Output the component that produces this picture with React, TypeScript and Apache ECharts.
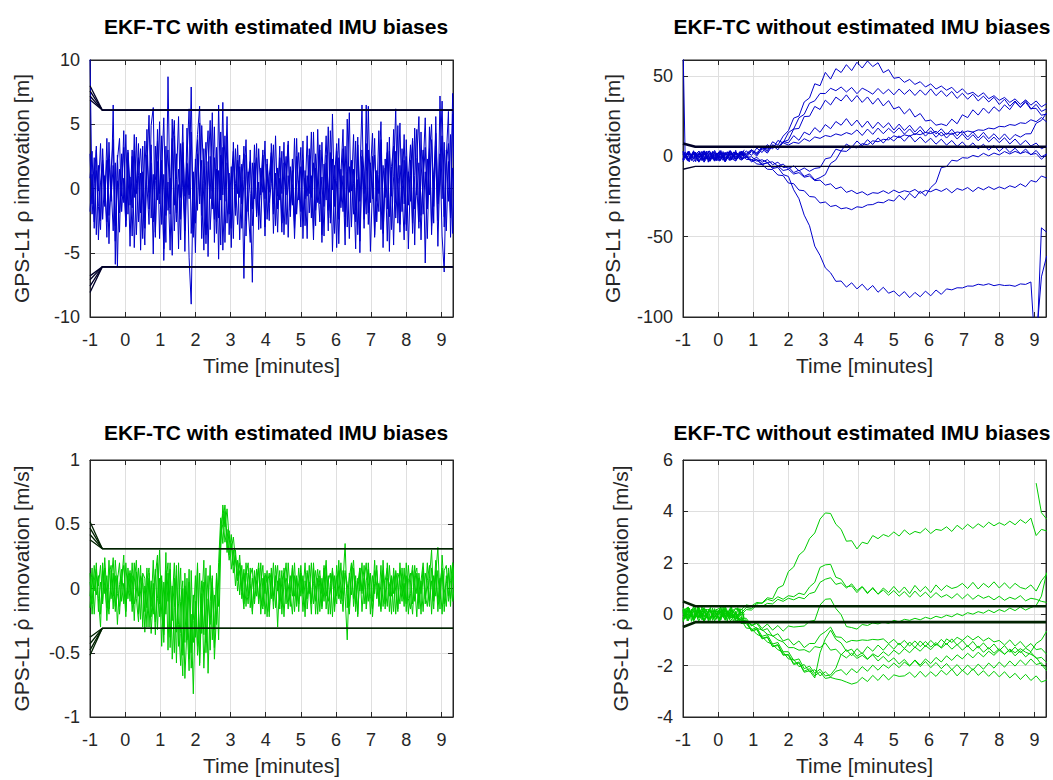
import React, { useEffect, useRef } from "react";
import * as echarts from "echarts";

// ---------- axes / sampling ----------
const X_MIN = -1;
const X_MAX = 9.33;
const SETTLE = -0.65; // time where the 3-sigma bounds settle
const STEP_FAST = 0.06; // sample spacing of the noisy traces
const STEP_SLOW = 0.15; // sample spacing of the drifting traces

// ---------- top-left: rho innovation, with bias estimation [m] ----------
const tlTrace1 = [
  10.5, -1.2, 2.4, -3.6, 1.8, -2.5, 3.1, -0.8, 2.2, -4.3,
  1.5, 3.8, -2.9, 0.6, -3.4, 2.7, -1.1, 4.2, -2.0, 0.9,
  -3.7, 2.9, -0.4, 3.5, -4.8, 1.3, -2.2, 4.6, -1.6, 2.0,
  -5.1, 3.3, -0.9, 5.2, -2.8, 1.1, -4.2, 8.7, -1.5, 3.9,
  -3.3, 0.7, 5.6, -2.4, 2.8, -4.9, 1.9, -0.5, 4.4, -3.1,
  2.3, -1.7, 5.1, -3.9, 0.4, 3.6, -5.3, 2.5, -0.2, 4.8,
  -2.6, 1.4, -4.4, 3.2, -1.0, 4.0, -3.6, 0.8, 2.9, -2.1,
  3.4, -0.7, 1.9, -7.0, 2.6, -1.8, 3.0, -2.9, 0.5, 2.4,
  -3.2, 1.6, -0.3, 3.7, -2.4, 0.9, 2.8, -3.5, 1.2, -0.6,
  3.3, -2.7, 0.2, 2.5, -3.8, 1.7, -1.3, 3.9, -2.0, 0.6,
  -3.0, 2.2, -0.8, 4.1, -1.9, 1.0, -4.0, 2.7, 0.3, -2.6,
  3.6, -1.4, 2.0, -3.3, 4.5, -0.1, 1.8, -4.6, 2.4, -1.0,
  3.1, -2.2, 0.7, 5.9, -3.0, 1.5, -1.7, 4.0, -5.0, 2.1,
  -0.4, 3.5, -2.8, 1.2, 4.3, -3.6, 0.9, -1.8, 3.8, -2.5,
  1.6, -4.1, 2.9, -0.6, 4.6, -2.3, 0.8, -3.4, 3.1, -1.2,
  2.5, -4.7, 1.0, 3.9, -1.6, 0.2, -3.1, 4.4, -2.0, 1.3,
  -3.9, 2.8, 5.0, -1.4, 3.3, -4.5, 1.7, 6.8, -2.2, 3.0,
  -1.0, 4.2, -3.5, 2.0,
];
const tlTrace2 = [
  0.8, 2.9, -3.1, 1.4, -0.2, 3.5, -2.4, 1.0, -3.8, 2.3,
  -1.0, 6.5, -5.9, 2.6, -1.9, 0.5, 3.2, -3.0, 1.8, -4.5,
  2.5, -0.7, 4.0, -2.6, 1.2, -3.9, 3.7, 0.3, -2.8, 4.9,
  6.3, -3.4, 2.1, -1.2, 4.1, -5.6, 0.9, 3.0, -2.0, 5.4,
  -1.3, 2.7, -4.7, 3.5, 0.1, -2.9, 4.7, -0.8, 7.9, -3.8,
  1.6, 4.2, 6.4, -2.1, 3.1, -4.3, 1.0, 5.3, -1.6, 2.4,
  -3.5, 6.5, -0.9, 6.7, -4.2, 2.0, 0.6, -3.1, 3.6, -1.5,
  2.2, -4.0, 0.9, 2.7, -2.5, 1.3, -0.4, -7.3, 2.0, -1.9,
  3.1, -0.5, 1.8, -3.0, 2.3, -1.1, 0.4, 3.4, -2.9, 1.6,
  -0.9, 2.9, -3.6, 1.1, 3.7, -1.4, 0.3, -2.6, 2.5, -0.2,
  3.2, -3.9, 1.4, -0.6, 2.6, -2.3, 4.4, -1.7, 0.5, 3.4,
  -4.2, 1.9, -0.9, 4.8, -2.7, 2.3, -3.5, 0.6, 3.9, -1.5,
  1.0, -4.4, 5.4, -0.3, 2.2, -2.0, 3.7, -3.6, 0.9, 6.5,
  -2.4, 1.3, 3.0, -4.9, 0.2, 2.6, -1.0, 4.5, -3.2, 1.8,
  -0.7, 3.6, -2.2, 1.4, -4.4, 2.9, 0.4, 5.1, -1.8, 2.2,
  -3.3, 0.8, 3.4, -2.7, 4.7, -0.5, 2.0, -4.0, 1.5, 5.5,
  -1.6, 3.1, -2.9, 0.6, 4.3, -0.9, 2.7, -3.7, -6.5, 1.9,
  3.5, -2.3, 5.8, -0.8,
];
const tlTrace3 = [
  -1.8, 1.1, -2.6, 3.0, -4.0, 0.5, 2.2, -1.4, 3.9, -2.1,
  0.3, -3.3, 2.0, -6.1, 1.5, -0.6, 4.5, -2.5, 2.8, -1.3,
  3.0, -4.6, 0.4, 2.4, -1.9, 3.3, -3.1, 1.6, 5.7, -2.3,
  1.1, -3.8, 4.6, -0.4, 2.2, -4.7, 3.3, -1.7, 0.8, -5.2,
  4.1, -2.6, 1.5, -0.7, 5.0, -3.3, 2.0, -5.4, -9.0, 1.3,
  -2.7, 3.8, -0.6, 2.2, -4.8, 1.8, 4.5, -3.2, 0.2, -2.4,
  3.2, -5.5, 2.6, -0.5, 4.1, -2.7, 1.2, -4.6, 2.3, 0.4,
  -2.8, 1.7, -1.2, 3.3, -3.7, 0.8, 2.1, -1.6, 3.4, -2.2,
  0.5, -3.1, 2.6, -0.8, 1.4, -2.5, 3.5, -1.2, 0.9, -3.4,
  2.4, -0.4, 3.6, -2.8, 1.0, -1.7, 2.3, -3.1, 3.9, -0.9,
  1.7, -2.4, 0.8, -3.9, 3.1, -0.7, 2.0, -2.9, 4.6, -1.2,
  0.9, -3.7, 2.6, 0.1, -2.3, 5.8, -1.4, 2.9, -4.3, 1.5,
  -1.8, 3.3, -3.0, 1.7, -0.2, 4.2, -2.6, 0.7, -4.1, 3.0,
  1.2, -2.0, 6.4, -1.1, 2.5, -3.8, 1.4, -0.4, 3.6, -4.6,
  2.3, -1.6, 4.0, -3.2, 0.9, 6.2, -2.7, 1.8, -0.5, 4.2,
  -2.8, 1.3, -1.0, 3.7, -4.4, 2.4, 5.6, -2.1, 0.6, 3.2,
  -1.4, 4.8, -3.6, 1.1, 2.6, -2.5, 7.2, -0.8, 3.6, -3.3,
  2.1, -2.0, 7.4, 1.0,
];
const tlTrace4 = [
  2.7, -2.0, 0.4, 3.3, -1.4, -3.2, 1.9, 0.1, -2.6, 3.6,
  -0.7, 1.8, -4.1, 2.2, 3.9, -1.8, 0.8, -2.9, 3.0, 0.2,
  -1.5, 4.2, -3.6, 1.0, 3.1, -0.9, -4.4, 2.6, -0.3, 3.4,
  -2.6, 0.6, 3.7, -3.9, 1.4, 5.5, -2.1, 0.5, -4.8, 2.8,
  5.3, -1.9, 0.3, -4.0, 3.6, -0.6, 2.4, 6.2, -3.5, 0.9,
  -5.0, 2.7, -1.2, 4.9, 0.6, -3.6, 2.1, -0.8, 5.9, -4.2,
  1.5, -2.3, 4.4, -4.8, 0.3, 5.6, -2.0, 1.7, -3.9, 3.1,
  -0.4, 2.6, -3.1, 0.7, 3.8, -1.5, -4.2, 2.0, -0.8, 3.5,
  -2.1, 0.4, 3.0, -3.7, 1.9, -0.3, 2.5, -2.0, 4.1, -1.6,
  0.8, -3.4, 2.0, -0.5, 3.4, -2.2, 1.4, -3.9, 0.5, 2.8,
  -1.8, 3.7, -2.9, 1.0, -0.4, 4.4, -3.2, 1.6, -1.1, 3.0,
  -3.6, 0.5, 4.1, -1.7, 2.8, -4.9, 0.8, 3.5, -2.4, 1.1,
  4.6, -2.8, 1.3, -3.9, 2.1, 0.4, -4.7, 3.4, -1.0, 2.5,
  -3.1, 6.5, -1.9, 2.0, -0.8, 3.9, -2.6, 1.1, 5.2, -3.5,
  0.6, 2.8, -4.9, 1.7, 3.3, -1.1, 4.9, -2.8, 0.2, -4.0,
  3.8, -1.3, 2.2, -3.5, 1.0, 4.6, -2.6, 0.9, 3.0, -5.8,
  2.3, -0.5, 3.8, -2.7, 5.6, -1.2, 0.4, 4.1, -3.0, 2.5,
  6.0, -3.8, 1.6, -0.9,
];
const tlBoundStartUpper = [8.0, 7.6, 7.2, 6.9];
const tlBoundStartLower = [-8.1, -7.6, -7.1, -6.8];
const tlBoundLevel = 6.1;

// ---------- top-right: rho innovation, without bias estimation [m] ----------
// dense start-up noise (fast sampling, -1 .. 0.74 min)
const trEarly1 = [70, 1.2, -2.4, 3.1, -0.6, 2.2, -3.3, 0.9, 1.8, -2.7, 3.4, -1.1, 0.4, -3.0, 2.6, -0.8, 1.9, -2.2, 3.6, -1.6, 0.7, 2.9, -2.5, 1.3, -0.2, 3.8, -1.4, 2.2, 0.6, 4.1];
const trEarly2 = [-2.1, 2.8, -0.4, -3.4, 1.5, -1.8, 2.7, -2.9, 0.3, 3.2, -1.7, 2.0, -3.6, 1.1, -0.9, 2.5, -2.8, 0.8, -1.5, 3.0, -3.1, 0.2, 1.6, -2.3, 2.8, -0.7, 1.2, -1.9, 3.3, 0.5];
const trEarly3 = [1.6, -1.0, 2.3, 0.5, -2.6, 3.5, -0.3, -1.4, 2.9, -0.6, -2.2, 3.3, 0.9, -1.7, 3.1, -2.6, 0.1, 2.4, -0.9, -2.5, 1.8, -1.3, 3.5, -0.4, -1.8, 2.1, 0.3, 3.0, -2.2, 1.7];
const trA = [
  1.0, -2.6, 2.9, -0.4, 1.7, -3.1, 0.6, 2.8, -1.9, 3.2, -0.7, 2.4,
  1.8, 4.1, 0.9, 6.2, 3.5, 9.1, 7.0, 12.6,
  16.0, 23.8, 25.1, 33.9, 36.4, 45.2, 44.0, 52.3, 48.1, 54.6,
  52.2, 57.1, 53.4, 58.6, 55.0, 59.4, 55.9, 58.3, 52.1, 54.0,
  48.6, 49.2, 46.1, 47.9, 44.8, 46.5, 43.2, 45.1, 41.9, 43.8,
  41.2, 43.0, 39.5, 42.1, 38.7, 39.9, 37.2, 39.6, 35.9, 37.8,
  34.9, 36.7, 33.6, 35.8, 32.4, 35.2, 31.9, 34.5, 30.8, 32.9,
];
const trB = [
  2.2, -1.4, 0.1, 3.1, -2.2, 1.0, -3.0, 1.6, 2.1, -1.9, 2.6, -0.2,
  3.4, 0.6, 5.2, 2.4, 7.3, 4.6, 9.9, 8.4,
  14.8, 17.1, 24.0, 26.2, 33.1, 34.6, 39.2, 39.1, 42.4, 40.9,
  43.2, 40.1, 42.9, 39.0, 42.5, 40.8, 38.7, 42.3, 38.9, 41.8,
  38.3, 42.0, 38.6, 41.6, 37.9, 41.4, 38.1, 42.0, 37.8, 40.9,
  37.3, 40.4, 36.1, 39.3, 35.6, 38.7, 34.5, 37.5, 33.9, 36.8,
  32.3, 35.6, 31.2, 34.5, 30.6, 33.7, 29.3, 32.4, 28.0, 29.6,
];
const trC = [
  -1.9, 2.6, -1.4, 0.9, 3.0, -2.4, 1.8, -1.0, -0.3, -2.5, 1.5, 2.4,
  -0.6, 3.1, 0.2, 4.7, 2.0, 6.8, 4.1, 9.0,
  10.2, 17.0, 17.4, 24.8, 25.0, 31.1, 29.2, 35.0, 32.0, 36.9,
  34.5, 38.3, 34.0, 37.9, 33.6, 37.0, 32.5, 36.2, 31.4, 34.7,
  29.5, 30.9, 26.4, 29.6, 24.5, 26.7, 22.0, 22.6, 19.4, 20.2,
  19.1, 23.2, 20.3, 25.9, 24.1, 29.0, 25.7, 30.1, 26.8, 30.9,
  28.0, 32.1, 29.1, 33.8, 30.4, 34.7, 29.8, 29.9, 25.6, 26.4,
];
const trD = [
  2.9, -1.5, 2.2, -3.1, 1.8, 3.3, -2.4, 2.7, -1.2, 3.6, -1.9, 2.4,
  0.9, 4.0, 1.5, 5.6, 3.0, 7.2, 5.7, 9.3,
  8.4, 12.9, 10.0, 15.1, 13.4, 17.9, 15.0, 19.8, 17.2, 21.7,
  19.4, 23.5, 19.0, 22.6, 18.1, 22.0, 17.4, 21.3, 17.8, 20.9,
  16.4, 20.1, 16.1, 19.4, 15.2, 18.7, 14.6, 18.1, 14.0, 17.2,
  13.4, 16.9, 12.8, 16.0, 12.0, 15.3, 11.4, 15.0, 11.0, 14.1,
  10.5, 14.0, 10.3, 13.6, 12.0, 14.0, 14.1, 20.6, 22.4, 27.1,
];
const trE = [
  -2.4, 3.3, -1.2, 2.0, -3.6, 1.3, 2.9, -2.6, 2.2, -0.9, -2.9, 3.2,
  0.5, 3.8, 2.3, 5.3, 4.7, 6.3, 5.8, 8.5,
  7.0, 8.8, 8.1, 11.0, 9.4, 12.1, 11.2, 13.0, 12.3, 14.0,
  13.1, 14.8, 13.7, 16.5, 13.0, 17.0, 13.7, 17.6, 14.1, 17.5,
  14.5, 17.8, 13.8, 17.1, 13.4, 16.4, 12.6, 15.9, 11.9, 15.2,
  11.4, 14.7, 10.8, 14.0, 10.2, 13.5, 9.7, 12.8, 9.0, 12.0,
  8.5, 11.6, 7.7, 10.8, 7.1, 10.0, 6.4, 8.3, 4.7, 6.4,
];
const trF = [
  1.6, -3.0, 2.8, -1.3, 3.5, -2.7, 1.1, 2.5, -3.4, 1.8, -1.5, 2.2,
  -0.7, -0.2, -3.0, -2.1, -3.8, -3.4, -6.1, -4.8,
  -7.8, -5.9, -9.0, -7.2, -9.3, -7.5, -7.0, -1.5, -0.8, 4.5,
  3.4, 7.7, 5.6, 9.6, 6.5, 10.4, 7.4, 11.5, 8.3, 11.9,
  9.6, 12.8, 9.4, 13.1, 9.0, 12.1, 8.5, 11.3, 7.6, 10.7,
  7.0, 9.9, 6.1, 9.0, 5.4, 8.4, 4.7, 7.6, 3.9, 6.8,
  3.1, 6.0, 2.4, 5.1, 1.6, 4.6, 0.9, 3.7, -0.3, 1.5,
];
const trG = [
  -3.2, 1.9, -1.5, 3.3, -2.9, 2.1, -1.7, 3.6, -2.2, 1.4, 2.7, -1.3,
  -0.2, -2.9, -2.1, -4.8, -4.0, -6.9, -5.9, -8.8,
  -8.1, -11.0, -10.1, -13.0, -12.2, -15.1, -14.8, -17.9, -17.1, -20.2,
  -19.0, -22.4, -21.2, -23.2, -22.0, -24.1, -22.6, -23.0, -21.4, -23.1,
  -21.0, -22.6, -21.4, -22.2, -20.6, -23.0, -21.2, -22.0, -20.4, -21.8,
  -20.0, -22.7, -20.0, -21.1, -19.4, -21.9, -19.3, -20.8, -18.9, -20.6,
  -19.0, -20.2, -18.3, -19.4, -17.1, -18.9, -15.0, -16.0, -12.2, -13.5,
];
const trH = [
  2.5, -1.8, 3.2, -3.6, 1.1, 2.4, -2.6, 1.8, -3.3, 3.0, -1.5, 1.7,
  -1.9, -2.0, -4.7, -5.1, -8.0, -8.2, -11.6, -12.0,
  -16.6, -17.0, -21.0, -21.4, -25.0, -25.3, -29.0, -28.4, -31.2, -30.5,
  -32.6, -32.0, -33.2, -31.4, -31.8, -30.2, -30.0, -28.5, -28.9, -27.0,
  -27.8, -24.2, -27.1, -23.0, -25.9, -21.6, -24.6, -19.4, -16.4, -7.0,
  -6.3, -2.4, -2.9, -0.8, -1.1, 0.6, -0.3, 1.9, 0.3, 2.1,
  0.9, 3.0, 1.5, 3.1, 1.8, 2.9, 1.2, 1.8, -1.8, 1.1,
];
const trI = [
  -1.4, 2.8, -3.3, 1.6, -2.1, 3.4, -1.2, -2.9, 2.5, -1.9, 1.8, -2.4,
  -0.2, -3.4, -1.8, -5.3, -3.9, -7.6, -6.8, -11.3,
  -12.5, -20.8, -26.4, -36.6, -43.2, -55.9, -61.7, -69.4, -72.5, -77.8,
  -77.6, -81.4, -78.7, -82.5, -79.6, -83.3, -80.4, -84.6, -81.5, -85.2,
  -83.8, -87.1, -84.2, -88.0, -84.7, -87.4, -83.9, -86.8, -83.2, -85.9,
  -82.5, -83.1, -81.8, -81.9, -80.7, -80.8, -79.6, -80.2, -79.3, -80.5,
  -79.8, -80.4, -80.2, -80.9, -79.4, -79.7, -78.2, -130, -44.5, -47.2,
];
const trJ = [
  3.3, -2.0, 1.3, -3.0, 2.5, -1.5, 3.7, -2.3, 1.6, 2.9, -2.7, 1.4,
  0.7, -2.2, -0.6, -3.7, -2.0, -5.2, -3.6, -7.0,
  -6.5, -10.1, -8.6, -12.4, -10.9, -14.6, -13.2, -11.3, -4.4, -2.2,
  3.4, 3.1, 5.8, 5.3, 7.9, 7.2, 9.7, 9.1, 10.6, 10.3,
  12.8, 11.7, 13.4, 12.6, 14.1, 13.5, 14.9, 14.2, 15.6, 12.8,
  14.4, 13.7, 15.2, 14.6, 15.8, 15.1, 16.5, 16.2, 17.6, 17.1,
  18.7, 18.4, 19.8, 19.3, 20.9, 20.5, 22.8, 21.6, 24.2, 21.4,
];
const trK = [-115, -75, -62]; // satellite that appears at the very end
const trKStartIndex = 67;
const trBoundStartUpper = 8;
const trBoundStartLower = -8;
const trBoundUpper = 6;
const trBoundLower = -6.2;

// ---------- bottom-left: rho-dot innovation, with bias estimation [m/s] ----------
const blTrace1 = [
  0.05, -0.12, 0.18, -0.05, 0.1, -0.2, 0.14, 0.02, -0.15, 0.22,
  -0.08, 0.12, -0.18, 0.06, 0.2, -0.1, 0.04, -0.22, 0.16, -0.03,
  0.1, -0.25, 0.13, -0.06, 0.18, -0.3, 0.02, -0.15, 0.08, -0.35,
  -0.05, 0.15, -0.32, 0.08, -0.45, 0.05, -0.2, 0.12, -0.38, 0.02,
  -0.5, 0.1, -0.28, -0.6, 0.0, -0.42, 0.08, -0.55, -0.2, -0.82,
  -0.1, -0.45, 0.12, -0.35, 0.05, -0.5, -0.15, 0.18, -0.4, -0.05,
  -0.28, 0.2, 0.55, 0.35, 0.6, 0.28, 0.45, 0.15, 0.3, 0.02,
  0.22, -0.05, 0.18, -0.12, 0.1, 0.2, -0.15, 0.08, -0.08, 0.15,
  -0.12, 0.05, 0.18, -0.2, 0.02, 0.12, -0.08, 0.2, -0.15, 0.06,
  -0.1, 0.14, -0.22, 0.08, 0.03, -0.14, 0.18, -0.06, 0.1, -0.18,
  0.12, -0.04, 0.2, -0.16, 0.05, -0.1, 0.16, -0.2, 0.08, 0.02,
  -0.14, 0.18, -0.06, 0.1, -0.2, 0.14, 0.0, -0.12, 0.22, -0.08,
  0.05, 0.35, -0.15, 0.12, -0.05, 0.16, -0.18, 0.08, -0.02, 0.2,
  -0.12, 0.06, 0.15, -0.2, 0.1, -0.04, 0.18, -0.14, 0.04, 0.12,
  -0.16, 0.2, -0.06, 0.08, -0.18, 0.14, 0.02, -0.12, 0.16, -0.08,
  0.1, -0.2, 0.05, 0.18, -0.1, 0.12, -0.16, 0.06, 0.2, -0.05,
  -0.14, 0.08, 0.3, -0.1, 0.14, -0.18, 0.04, 0.16, -0.12, 0.1,
  -0.06, 0.18, -0.1, 0.05,
];
const blTrace2 = [
  -0.15, 0.08, -0.02, 0.2, -0.18, 0.05, -0.1, 0.16, -0.25, 0.1,
  0.18, -0.06, 0.1, -0.28, 0.03, 0.15, -0.12, 0.2, -0.08, 0.12,
  -0.18, 0.05, 0.22, -0.2, -0.02, 0.1, -0.34, 0.06, 0.16, -0.22,
  0.04, -0.36, 0.2, -0.12, 0.1, -0.3, 0.28, -0.48, 0.15, -0.25,
  0.08, -0.58, 0.2, -0.35, -0.68, 0.12, -0.4, 0.05, -0.62, -0.25,
  0.1, -0.52, -0.3, 0.06, -0.62, -0.2, 0.1, -0.48, 0.05, -0.32,
  0.08, -0.4, 0.3, 0.65, 0.48, 0.62, 0.38, 0.3, 0.4, 0.22,
  0.1, 0.26, -0.02, 0.15, -0.14, 0.12, 0.04, -0.18, 0.14, -0.06,
  0.16, -0.2, 0.08, -0.04, 0.14, -0.22, 0.1, -0.1, 0.04, 0.18,
  -0.16, 0.06, 0.12, -0.12, 0.2, -0.04, -0.2, 0.1, -0.1, 0.16,
  -0.06, 0.1, -0.22, 0.14, -0.04, 0.2, -0.12, 0.02, 0.15, -0.18,
  0.08, -0.1, 0.16, -0.2, 0.04, 0.12, -0.14, 0.18, -0.02, -0.12,
  0.14, -0.06, -0.4, 0.08, 0.2, -0.14, 0.06, -0.2, 0.12, -0.04,
  0.18, -0.16, 0.02, 0.12, -0.1, 0.22, -0.08, 0.04, -0.18, 0.14,
  0.0, -0.14, 0.18, -0.06, 0.1, -0.2, 0.12, 0.06, -0.1, 0.16,
  -0.18, 0.06, 0.12, -0.12, 0.18, -0.04, 0.08, -0.2, 0.14, -0.08,
  0.2, -0.1, 0.06, -0.16, 0.12, 0.32, -0.08, 0.14, -0.18, 0.04,
  0.12, -0.14, 0.2, -0.02,
];
const blTrace3 = [
  0.12, -0.2, 0.06, 0.15, -0.08, -0.3, 0.2, -0.04, 0.1, -0.16,
  0.04, 0.24, -0.14, 0.1, -0.2, 0.08, 0.18, -0.1, 0.02, 0.14,
  -0.12, 0.2, -0.08, -0.26, 0.1, 0.04, -0.18, 0.16, -0.3, 0.06,
  -0.2, 0.1, 0.26, -0.22, 0.06, -0.42, 0.14, -0.1, 0.2, -0.55,
  -0.15, 0.18, -0.45, -0.1, 0.06, -0.7, -0.3, 0.15, -0.5, -0.05,
  -0.38, 0.16, -0.6, -0.12, 0.22, -0.42, -0.08, -0.28, 0.1, -0.55,
  -0.2, 0.05, 0.42, 0.5, 0.65, 0.4, 0.22, 0.35, 0.12, 0.3,
  0.06, 0.2, -0.08, 0.12, 0.02, -0.12, 0.16, -0.2, 0.1, 0.04,
  0.2, -0.1, -0.16, 0.12, 0.04, -0.18, 0.16, -0.06, 0.1, -0.3,
  0.08, -0.12, 0.16, 0.02, -0.16, 0.1, -0.06, 0.2, -0.14, 0.05,
  0.12, -0.18, 0.06, -0.08, 0.18, -0.12, 0.04, 0.14, -0.2, 0.1,
  -0.04, 0.16, -0.16, 0.06, 0.12, -0.22, 0.1, -0.06, 0.14, 0.02,
  -0.18, 0.12, 0.04, -0.14, 0.18, -0.08, 0.1, -0.22, 0.16, -0.02,
  0.08, -0.12, 0.2, -0.06, -0.16, 0.14, 0.02, -0.1, 0.18, -0.14,
  0.06, 0.16, -0.18, 0.1, -0.04, 0.12, -0.16, 0.2, -0.06, 0.04,
  -0.12, 0.18, -0.04, -0.2, 0.1, 0.16, -0.1, 0.06, -0.18, 0.12,
  0.02, -0.14, 0.16, -0.06, 0.22, -0.12, 0.08, -0.2, 0.14, 0.18,
  -0.1, 0.06, 0.2, -0.16,
];
const blTrace4 = [
  -0.06, 0.16, -0.2, 0.1, 0.02, 0.18, -0.12, 0.24, -0.06, -0.2,
  0.14, -0.16, 0.22, -0.04, -0.14, 0.06, 0.26, -0.18, 0.1, -0.1,
  0.2, -0.12, -0.02, 0.16, -0.24, 0.12, 0.08, -0.3, 0.12, -0.14,
  0.22, -0.26, -0.08, 0.3, -0.2, -0.36, 0.04, 0.2, -0.46, -0.1,
  0.2, -0.34, -0.12, 0.16, -0.52, 0.02, -0.26, -0.64, 0.14, -0.42,
  -0.2, 0.2, -0.58, -0.04, -0.36, 0.16, -0.66, -0.1, 0.08, -0.46,
  0.12, -0.14, 0.48, 0.58, 0.36, 0.46, 0.26, 0.42, 0.18, 0.26,
  -0.02, 0.14, 0.02, -0.16, 0.2, -0.06, 0.1, 0.16, -0.12, 0.06,
  -0.08, 0.2, -0.14, 0.1, -0.22, 0.06, 0.12, -0.16, 0.18, -0.02,
  0.14, -0.2, 0.04, 0.2, -0.1, -0.02, 0.16, -0.18, 0.08, -0.12,
  0.18, -0.06, -0.14, 0.12, 0.04, -0.2, 0.2, -0.1, 0.06, 0.14,
  -0.16, 0.04, 0.22, -0.1, -0.02, 0.16, -0.18, 0.1, -0.08, 0.2,
  -0.1, 0.14, -0.04, -0.2, 0.1, 0.22, -0.12, 0.04, 0.16, -0.18,
  0.06, 0.2, -0.1, 0.12, -0.22, 0.04, 0.14, -0.08, -0.16, 0.22,
  -0.12, 0.08, 0.04, -0.2, 0.16, -0.02, -0.18, 0.14, 0.08, -0.14,
  0.2, -0.08, -0.16, 0.14, 0.02, -0.22, 0.12, -0.04, 0.16, -0.12,
  0.06, 0.18, -0.2, 0.1, -0.06, 0.14, -0.16, 0.26, 0.0, -0.14,
  0.16, -0.08, 0.1, 0.18,
];
const blBoundStartUpper = [0.52, 0.47, 0.42, 0.38];
const blBoundStartLower = [-0.52, -0.48, -0.43, -0.38];
const blBoundLevel = 0.31;

// ---------- bottom-right: rho-dot innovation, without bias estimation [m/s] ----------
const brEarly1 = [0.12, -0.18, 0.26, -0.08, 0.2, -0.24, 0.06, 0.18, -0.14, 0.28, -0.1, 0.04, -0.26, 0.16, -0.02, 0.22, -0.2, 0.1, 0.3, -0.12, 0.08, -0.28, 0.2, -0.06, 0.14, -0.22, 0.26, -0.04, 0.1, -0.3];
const brEarly2 = [-0.2, 0.1, -0.04, 0.24, -0.28, 0.14, -0.12, 0.3, -0.06, -0.22, 0.18, -0.16, 0.12, 0.26, -0.24, 0.04, 0.2, -0.3, 0.08, -0.1, 0.24, -0.02, -0.2, 0.16, -0.34, 0.12, -0.12, 0.22, -0.26, 0.02];
const brEarly3 = [0.04, 0.22, -0.26, 0.1, 0.0, -0.16, 0.26, -0.2, 0.14, 0.06, -0.3, 0.2, -0.08, -0.18, 0.24, -0.14, 0.06, 0.16, -0.22, 0.28, -0.18, 0.12, -0.04, 0.3, -0.14, 0.08, -0.3, 0.14, 0.2, -0.16];
const brA = [
  0.2, -0.16, 0.26, -0.1, 0.08, -0.22, 0.14, 0.24, -0.06, 0.1, 0.22, 0.04,
  0.26, 0.22, 0.42, 0.44, 0.64, 0.6, 1.02, 1.12,
  1.66, 1.84, 2.3, 2.48, 2.94, 3.16, 3.7, 3.94, 3.92, 3.5,
  3.3, 2.84, 2.86, 2.54, 2.8, 2.74, 3.06, 2.94, 3.1, 3.02,
  3.2, 3.04, 3.28, 3.1, 3.22, 3.16, 3.34, 3.14, 3.3, 3.26,
  3.4, 3.22, 3.46, 3.3, 3.5, 3.34, 3.52, 3.38, 3.58, 3.44,
  3.56, 3.46, 3.62, 3.48, 3.68, 3.54, 3.74, 3.06, 3.3, 3.24,
];
const brA2 = [5.1, 3.95, 3.7]; // satellite that appears at the very end
const brA2StartIndex = 67;
const brB = [
  -0.04, 0.26, -0.12, 0.2, -0.26, 0.12, 0.1, -0.18, 0.2, -0.1, 0.22, 0.16,
  0.36, 0.32, 0.46, 0.42, 0.58, 0.52, 0.68, 0.58,
  0.72, 0.68, 0.82, 0.76, 1.06, 1.24, 1.82, 1.92, 1.94, 1.44,
  1.36, 1.06, 1.1, 0.84, 1.06, 0.8, 1.04, 0.78, 1.02, 0.84,
  1.08, 0.84, 1.06, 0.8, 1.12, 0.88, 1.08, 0.84, 1.14, 0.92,
  1.12, 1.0, 1.06, 1.2, 1.0, 1.24, 0.98, 1.2, 1.04, 1.26,
  1.02, 1.22, 1.0, 1.2, 1.04, 0.98, 1.14, 0.9, 1.3, 1.56,
];
const brC = [
  0.16, -0.22, 0.14, 0.06, -0.28, 0.2, -0.12, 0.16, -0.24, 0.26, -0.02, -0.04,
  0.18, 0.16, 0.36, 0.3, 0.42, 0.4, 0.58, 0.5,
  0.62, 0.56, 0.66, 0.6, 0.8, 0.86, 1.24, 1.36, 1.42, 1.16,
  1.22, 1.02, 1.18, 0.92, 1.08, 0.84, 1.0, 0.78, 0.94, 0.74,
  0.92, 0.7, 0.88, 0.66, 0.9, 0.68, 0.86, 0.64, 0.84, 0.66,
  0.76, 0.62, 0.8, 0.6, 0.78, 0.58, 0.74, 0.62, 0.7, 0.56,
  0.7, 0.54, 0.66, 0.58, 0.72, 0.52, 0.62, 0.58, 0.5, 0.46,
];
const brD = [
  -0.14, 0.14, -0.2, 0.24, -0.1, 0.18, -0.26, 0.1, 0.2, -0.16, 0.02, -0.26,
  -0.22, -0.46, -0.3, -0.56, -0.38, -0.62, -0.44, -0.66,
  -0.46, -0.5, -0.48, -0.46, -0.28, -0.24, 0.36, 0.58, 0.6, 0.22,
  -0.02, -0.48, -0.52, -0.58, -0.4, -0.44, -0.34, -0.38, -0.3, -0.36,
  -0.24, -0.3, -0.2, -0.24, -0.16, -0.22, -0.12, -0.18, -0.08, -0.14,
  -0.04, -0.1, 0.02, -0.06, 0.06, 0.0, 0.1, 0.04, 0.16, 0.06,
  0.18, 0.1, 0.24, 0.14, 0.28, 0.16, 0.26, 0.34, 0.7, 1.62,
];
const brE = [
  0.16, -0.26, 0.3, -0.14, 0.22, -0.3, 0.1, 0.12, -0.2, 0.08, -0.16, -0.18,
  -0.32, -0.4, -0.56, -0.6, -0.78, -0.84, -1.0, -1.08,
  -1.3, -1.3, -1.4, -1.38, -1.48, -1.26, -1.3, -1.12, -1.4, -1.36,
  -1.58, -1.38, -1.62, -1.34, -1.54, -1.26, -1.44, -1.2, -1.4, -1.16,
  -1.36, -1.12, -1.34, -1.08, -1.3, -1.04, -1.26, -1.02, -1.22, -0.98,
  -1.18, -0.96, -1.2, -1.02, -1.26, -1.06, -1.32, -1.12, -1.36, -1.16,
  -1.42, -1.22, -1.48, -1.28, -1.5, -1.32, -1.46, -1.14, -1.0, -0.66,
];
const brF = [
  -0.24, 0.18, -0.12, 0.28, -0.22, 0.1, 0.14, -0.18, 0.14, -0.26, 0.01, -0.36,
  -0.36, -0.64, -0.6, -0.96, -0.9, -1.26, -1.22, -1.6,
  -1.56, -1.92, -1.86, -2.22, -2.12, -2.4, -2.24, -2.5, -2.46, -2.52,
  -2.56, -2.64, -2.72, -2.66, -2.46, -2.62, -2.38, -2.58, -2.34, -2.56,
  -2.36, -2.42, -2.4, -2.26, -2.46, -2.22, -2.44, -2.24, -2.42, -2.18,
  -2.36, -2.14, -2.4, -2.18, -2.36, -2.12, -2.38, -2.2, -2.42, -2.22,
  -2.44, -2.24, -2.48, -2.3, -2.54, -2.34, -2.58, -2.4, -2.64, -2.56,
];
const brG = [
  0.26, -0.12, 0.2, -0.26, 0.16, 0.18, -0.2, 0.06, 0.14, -0.14, -0.09, -0.31,
  -0.3, -0.66, -0.58, -0.94, -0.88, -1.26, -1.18, -1.56,
  -1.6, -1.96, -1.9, -2.26, -2.2, -2.48, -1.5, -0.96, -0.62, -0.98,
  -1.12, -1.44, -1.36, -1.64, -1.5, -1.74, -1.58, -1.82, -1.64, -1.86,
  -1.7, -1.94, -1.76, -2.0, -1.8, -2.04, -1.84, -2.08, -1.88, -2.12,
  -1.92, -2.16, -1.96, -2.2, -1.98, -2.18, -1.94, -2.14, -1.9, -2.1,
  -1.86, -2.06, -1.82, -2.02, -1.78, -1.98, -1.74, -1.96, -1.9, -2.1,
];
const brH = [
  -0.16, 0.24, -0.28, 0.12, 0.1, -0.18, 0.14, -0.26, 0.18, -0.06, -0.06, -0.24,
  -0.26, -0.6, -0.52, -0.86, -0.8, -1.16, -1.1, -1.46,
  -1.46, -1.8, -1.74, -2.12, -2.02, -2.3, -2.14, -2.4, -2.36, -2.1,
  -1.56, -1.7, -1.52, -1.72, -1.6, -1.76, -1.54, -1.66, -1.46, -1.62,
  -1.4, -1.56, -1.34, -1.5, -1.28, -1.44, -1.22, -1.38, -1.16, -1.3,
  -0.96, -1.1, -0.9, -1.02, -0.84, -1.0, -0.86, -1.04, -0.92, -1.08,
  -1.02, -1.2, -1.0, -1.24, -1.06, -1.3, -1.14, -1.38, -1.34, -1.56,
];
const brI = [
  0.11, 0.28, -0.22, 0.16, -0.3, 0.2, -0.04, -0.16, 0.3, -0.12, 0.06, -0.16,
  -0.16, -0.44, -0.36, -0.64, -0.56, -0.86, -0.76, -1.04,
  -0.96, -1.2, -1.04, -1.3, -1.14, -1.14, -0.82, -0.68, -0.5, -0.88,
  -0.9, -1.1, -1.02, -1.04, -1.0, -1.02, -0.98, -1.0, -0.96, -1.14,
  -0.98, -1.2, -1.02, -1.24, -1.04, -1.26, -1.06, -1.28, -1.1, -1.32,
  -1.14, -1.36, -1.18, -1.4, -1.22, -1.44, -1.24, -1.48, -1.3, -1.52,
  -1.34, -1.56, -1.38, -1.62, -1.42, -1.66, -1.48, -1.72, -1.68, -1.88,
];
const brJ = [
  -0.3, 0.16, -0.04, -0.1, 0.26, -0.08, -0.12, 0.2, -0.12, 0.22, -0.26, -0.2,
  -0.54, -0.56, -0.78, -0.88, -1.08, -1.18, -1.38, -1.48,
  -1.74, -1.76, -2.04, -1.96, -2.24, -2.16, -2.4, -2.24, -2.44, -2.22,
  -2.16, -2.36, -2.12, -2.28, -2.04, -2.22, -1.98, -2.18, -1.96, -2.1,
  -1.9, -2.08, -1.86, -2.02, -1.78, -1.98, -1.74, -1.92, -1.68, -1.86,
  -1.62, -1.8, -1.58, -1.74, -1.52, -1.7, -1.48, -1.66, -1.44, -1.6,
  -1.4, -1.56, -1.36, -1.5, -1.34, -1.48, -1.56, -1.68, -1.96, -2.2,
];
const brBoundStartUpper = 0.5;
const brBoundStartLower = -0.5;
const brBoundUpper = 0.31;
const brBoundLower = -0.31;

// ---------- text ----------
const titleWith = "EKF-TC with estimated IMU biases";
const titleWithout = "EKF-TC without estimated IMU biases";
const yNameRho = "GPS-L1 \u03C1 innovation [m]";
const yNameRhoDot = "{t|GPS-L1 }{g|\u03C1\u0307}{t| innovation [m/s]}";
const xName = "Time [minutes]";

// ---------- style ----------
const FONT = "'Liberation Sans', Arial, Helvetica, sans-serif";
const TXT = "#262626";
const BLUE = "#0000cc";
const GREEN = "#00cc00";
const NAVY_BOUND = "#000028";
const GREEN_BOUND = "#002200";

type Pt = [number, number];
const seq = (vals: number[], step: number, start = 0): Pt[] =>
  vals.map((v, i) => [X_MIN + (start + i) * step, v] as Pt);
const boundPath = (startVal: number, level: number): Pt[] => [
  [X_MIN, startVal],
  [SETTLE, level],
  [X_MAX, level],
];

const panels = [
  { left: 90, top: 60, title: titleWith, titleX: 271, titleTop: 11, yName: yNameRho, yMin: -10, yMax: 10, yInt: 5, nameGap: 58 },
  { left: 683, top: 60, title: titleWithout, titleX: 857, titleTop: 11, yName: yNameRho, yMin: -100, yMax: 60, yInt: 50, nameGap: 60 },
  { left: 90, top: 460, title: titleWith, titleX: 271, titleTop: 417, yName: yNameRhoDot, yMin: -1, yMax: 1, yInt: 0.5, nameGap: 58 },
  { left: 683, top: 460, title: titleWithout, titleX: 857, titleTop: 417, yName: yNameRhoDot, yMin: -4, yMax: 6, yInt: 2, nameGap: 52 },
];
const PW = 363;
const PH = 257;

function line(panel: number, data: Pt[], color: string, width = 1, z = 2) {
  return {
    type: "line",
    xAxisIndex: panel,
    yAxisIndex: panel,
    data,
    showSymbol: false,
    symbol: "none",
    silent: true,
    clip: true,
    z,
    lineStyle: { color, width },
    itemStyle: { color },
  };
}

function buildOption() {
  const grid = panels.map((p) => ({
    left: p.left,
    top: p.top,
    width: PW,
    height: PH,
    show: true,
    borderColor: TXT,
    borderWidth: 1,
    backgroundColor: "#ffffff",
    containLabel: false,
  }));
  const title = panels.map((p) => ({
    text: p.title,
    left: p.titleX,
    top: p.titleTop,
    textAlign: "center",
    textStyle: { fontFamily: FONT, fontSize: 21, fontWeight: "bold", color: "#000" },
  }));
  const xAxis: any[] = [];
  const yAxis: any[] = [];
  panels.forEach((p, i) => {
    xAxis.push({
      type: "value",
      gridIndex: i,
      min: X_MIN,
      max: X_MAX,
      interval: 1,
      name: xName,
      nameLocation: "middle",
      nameGap: 38,
      nameTextStyle: { fontFamily: FONT, fontSize: 21, color: TXT },
      axisLine: { show: true, onZero: false, lineStyle: { color: TXT, width: 1 } },
      axisTick: { show: true, inside: true, length: 5, lineStyle: { color: TXT } },
      axisLabel: { fontFamily: FONT, fontSize: 18, color: TXT, margin: 14, showMaxLabel: false },
      splitLine: { show: true, lineStyle: { color: "#dfdfdf", width: 1 } },
    });
    yAxis.push({
      type: "value",
      gridIndex: i,
      min: p.yMin,
      max: p.yMax,
      interval: p.yInt,
      name: p.yName,
      nameLocation: "middle",
      nameGap: p.nameGap,
      nameRotate: 90,
      nameTextStyle: {
        fontFamily: FONT,
        fontSize: 21,
        color: TXT,
        rich: {
          t: { fontFamily: FONT, fontSize: 21, color: TXT },
          g: { fontFamily: "'DejaVu Sans', 'Noto Sans', sans-serif", fontSize: 20, color: TXT },
        },
      },
      axisLine: { show: true, onZero: false, lineStyle: { color: TXT, width: 1 } },
      axisTick: { show: true, inside: true, length: 5, lineStyle: { color: TXT } },
      axisLabel: { fontFamily: FONT, fontSize: 18, color: TXT, margin: 10, showMaxLabel: p.yMax % p.yInt === 0 },
      splitLine: { show: true, lineStyle: { color: "#dfdfdf", width: 1 } },
    });
  });
  // mirrored top / right axes carrying only inside ticks (boxed axes)
  panels.forEach((p, i) => {
    xAxis.push({
      type: "value", gridIndex: i, position: "top", min: X_MIN, max: X_MAX, interval: 1,
      axisLine: { show: true, onZero: false, lineStyle: { color: TXT } },
      axisTick: { show: true, inside: true, length: 5, lineStyle: { color: TXT } },
      axisLabel: { show: false }, splitLine: { show: false },
    });
    yAxis.push({
      type: "value", gridIndex: i, position: "right", min: p.yMin, max: p.yMax, interval: p.yInt,
      axisLine: { show: true, onZero: false, lineStyle: { color: TXT } },
      axisTick: { show: true, inside: true, length: 5, lineStyle: { color: TXT } },
      axisLabel: { show: false }, splitLine: { show: false },
    });
  });

  const series: any[] = [];
  // top-left
  [tlTrace1, tlTrace2, tlTrace3, tlTrace4].forEach((t) => series.push(line(0, seq(t, STEP_FAST), BLUE)));
  tlBoundStartUpper.forEach((s) => series.push(line(0, boundPath(s, tlBoundLevel), NAVY_BOUND, 1.3, 5)));
  tlBoundStartLower.forEach((s) => series.push(line(0, boundPath(s, -tlBoundLevel), NAVY_BOUND, 1.3, 5)));
  // top-right
  [trEarly1, trEarly2, trEarly3].forEach((t) => series.push(line(1, seq(t, STEP_FAST), BLUE)));
  [trA, trB, trC, trD, trE, trF, trG, trH, trI, trJ].forEach((t) => series.push(line(1, seq(t, STEP_SLOW), BLUE)));
  series.push(line(1, seq(trK, STEP_SLOW, trKStartIndex), BLUE));
  series.push(line(1, boundPath(trBoundStartUpper, trBoundUpper), NAVY_BOUND, 2.6, 5));
  series.push(line(1, boundPath(trBoundStartLower, trBoundLower), NAVY_BOUND, 1.4, 5));
  // bottom-left
  [blTrace1, blTrace2, blTrace3, blTrace4].forEach((t) => series.push(line(2, seq(t, STEP_FAST), GREEN)));
  blBoundStartUpper.forEach((s) => series.push(line(2, boundPath(s, blBoundLevel), GREEN_BOUND, 1.3, 5)));
  blBoundStartLower.forEach((s) => series.push(line(2, boundPath(s, -blBoundLevel), GREEN_BOUND, 1.3, 5)));
  // bottom-right
  [brEarly1, brEarly2, brEarly3].forEach((t) => series.push(line(3, seq(t, STEP_FAST), GREEN)));
  [brA, brB, brC, brD, brE, brF, brG, brH, brI, brJ].forEach((t) => series.push(line(3, seq(t, STEP_SLOW), GREEN)));
  series.push(line(3, seq(brA2, STEP_SLOW, brA2StartIndex), GREEN));
  series.push(line(3, boundPath(brBoundStartUpper, brBoundUpper), GREEN_BOUND, 2.6, 5));
  series.push(line(3, boundPath(brBoundStartLower, brBoundLower), GREEN_BOUND, 2.6, 5));

  return {
    animation: false,
    backgroundColor: "#ffffff",
    textStyle: { fontFamily: FONT },
    title,
    grid,
    xAxis,
    yAxis,
    series,
  };
}

export default function App() {
  const ref = useRef<HTMLDivElement>(null);
  useEffect(() => {
    if (!ref.current) return;
    const chart = echarts.init(ref.current, undefined, { renderer: "svg" });
    chart.setOption(buildOption() as any);
    return () => chart.dispose();
  }, []);
  return (
    <div
      ref={ref}
      style={{ position: "absolute", left: 0, top: 0, width: 1053, height: 780, background: "#fff" }}
    />
  );
}
